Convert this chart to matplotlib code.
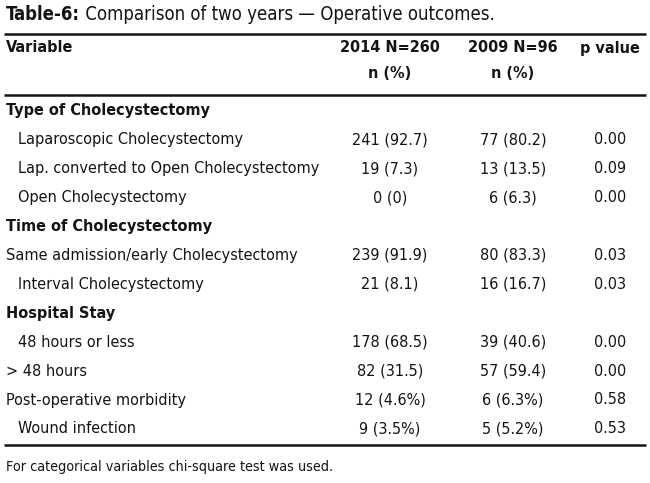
import matplotlib
matplotlib.use("Agg")
import matplotlib.pyplot as plt
from matplotlib import font_manager
from matplotlib.font_manager import FontProperties

title_bold = "Table-6:"
title_rest = " Comparison of two years \u2014 Operative outcomes."
col_headers = ["2014 N=260", "2009 N=96", "p value"]
col_sub = ["n (%)", "n (%)", ""]
row_labels = [
    "Type of Cholecystectomy",
    "Laparoscopic Cholecystectomy",
    "Lap. converted to Open Cholecystectomy",
    "Open Cholecystectomy",
    "Time of Cholecystectomy",
    "Same admission/early Cholecystectomy",
    "Interval Cholecystectomy",
    "Hospital Stay",
    "48 hours or less",
    "> 48 hours",
    "Post-operative morbidity",
    "Wound infection",
]
row_kind = ["head", "sub", "sub", "sub", "head", "plain", "sub", "head", "sub", "plain", "plain", "sub"]
vals_2014 = ["", "241 (92.7)", "19 (7.3)", "0 (0)", "", "239 (91.9)", "21 (8.1)", "", "178 (68.5)", "82 (31.5)", "12 (4.6%)", "9 (3.5%)"]
vals_2009 = ["", "77 (80.2)", "13 (13.5)", "6 (6.3)", "", "80 (83.3)", "16 (16.7)", "", "39 (40.6)", "57 (59.4)", "6 (6.3%)", "5 (5.2%)"]
p_values = ["", "0.00", "0.09", "0.00", "", "0.03", "0.03", "", "0.00", "0.00", "0.58", "0.53"]
footnote = "For categorical variables chi-square test was used."

# ---- pick a condensed / narrow font if one is installed ----
def is_narrow(f):
    n = f.name.lower()
    st = str(f.stretch).lower()
    return ("narrow" in n or "condensed" in n or "condensed" in st
            or "narrow" in st or (st.isdigit() and int(st) < 500))

def wnum(w):
    m = {"normal": 400, "regular": 400, "book": 400, "bold": 700, "medium": 500}
    try:
        return int(w)
    except Exception:
        return m.get(str(w).lower(), 400)

narrow = [f for f in font_manager.fontManager.ttflist
          if is_narrow(f) and f.style == "normal"]
reg_fp = bold_fp = None
if narrow:
    groups = {}
    for f in narrow:
        groups.setdefault((f.name, str(f.stretch)), []).append(f)
    best = None
    for key, fl in groups.items():
        regs = [f for f in fl if wnum(f.weight) == 400]
        bolds = [f for f in fl if wnum(f.weight) >= 600]
        if regs:
            score = 2 if bolds else 1
            if best is None or score > best[0]:
                best = (score, regs[0], (min(bolds, key=lambda f: abs(wnum(f.weight) - 700)) if bolds else None))
    if best:
        reg_fp = FontProperties(fname=best[1].fname)
        bold_fp = FontProperties(fname=best[2].fname) if best[2] else FontProperties(fname=best[1].fname, weight="bold")
if reg_fp is None:
    names = {f.name for f in font_manager.fontManager.ttflist}
    fam = "Roboto" if "Roboto" in names else "DejaVu Sans"
    reg_fp = FontProperties(family=[fam, "DejaVu Sans"])
    bold_fp = FontProperties(family=[fam, "DejaVu Sans"], weight="bold")

W, H = 650, 483
fig = plt.figure(figsize=(W / 100, H / 100), dpi=100)
ax = fig.add_axes([0, 0, 1, 1])
ax.set_xlim(0, W)
ax.set_ylim(H, 0)
ax.axis("off")
renderer = fig.canvas.get_renderer()
color = "#141414"

def width_at(s, fp, size):
    p = fp.copy()
    p.set_size(size)
    t = ax.text(0, 0, s, fontproperties=p)
    w = t.get_window_extent(renderer).width
    t.remove()
    return w

# calibrate body size so the longest label is about as wide as in the reference
fs = min(10 * 291.0 / width_at(row_labels[5], reg_fp, 10), 16.0)
# title: reference letters are loosely spaced; compromise between width and height
tw = width_at(title_bold, bold_fp, 10) + width_at(title_rest, reg_fp, 10)
fs_title = min(10 * 490.0 / tw, 18.0)
fs_foot = min(10 * 327.0 / width_at(footnote, reg_fp, 10), 16.0)

col_x = [390, 513, 610]

def txt(x, y, s, bold=False, ha="left", size=None):
    fp = (bold_fp if bold else reg_fp).copy()
    fp.set_size(size or fs)
    return ax.text(x, y, s, fontproperties=fp, va="center", ha=ha, color=color)

# title
t = txt(6, 15, title_bold, bold=True, size=fs_title)
bb = t.get_window_extent(renderer)
x_end = ax.transData.inverted().transform((bb.x1, bb.y0))[0]
txt(x_end, 15, title_rest, size=fs_title)

# rules
for y in [34, 95, 445]:
    ax.plot([4, 646], [y, y], color=color, lw=1.8, solid_capstyle="butt")

# header
txt(6, 48, "Variable", bold=True)
for x, h, s in zip(col_x, col_headers, col_sub):
    txt(x, 48, h, bold=True, ha="center")
    if s:
        txt(x, 74, s, bold=True, ha="center")

row_y0, row_dy = 111, 28.9
for i, (lab, kind) in enumerate(zip(row_labels, row_kind)):
    y = row_y0 + i * row_dy
    if kind == "head":
        txt(6, y, lab, bold=True)
    else:
        txt(18 if kind == "sub" else 6, y, lab)
    for x, v in zip(col_x, [vals_2014[i], vals_2009[i], p_values[i]]):
        if v:
            txt(x, y, v, ha="center")

txt(6, 467, footnote, size=fs_foot)

fig.savefig("out.png", dpi=100, facecolor="white")
